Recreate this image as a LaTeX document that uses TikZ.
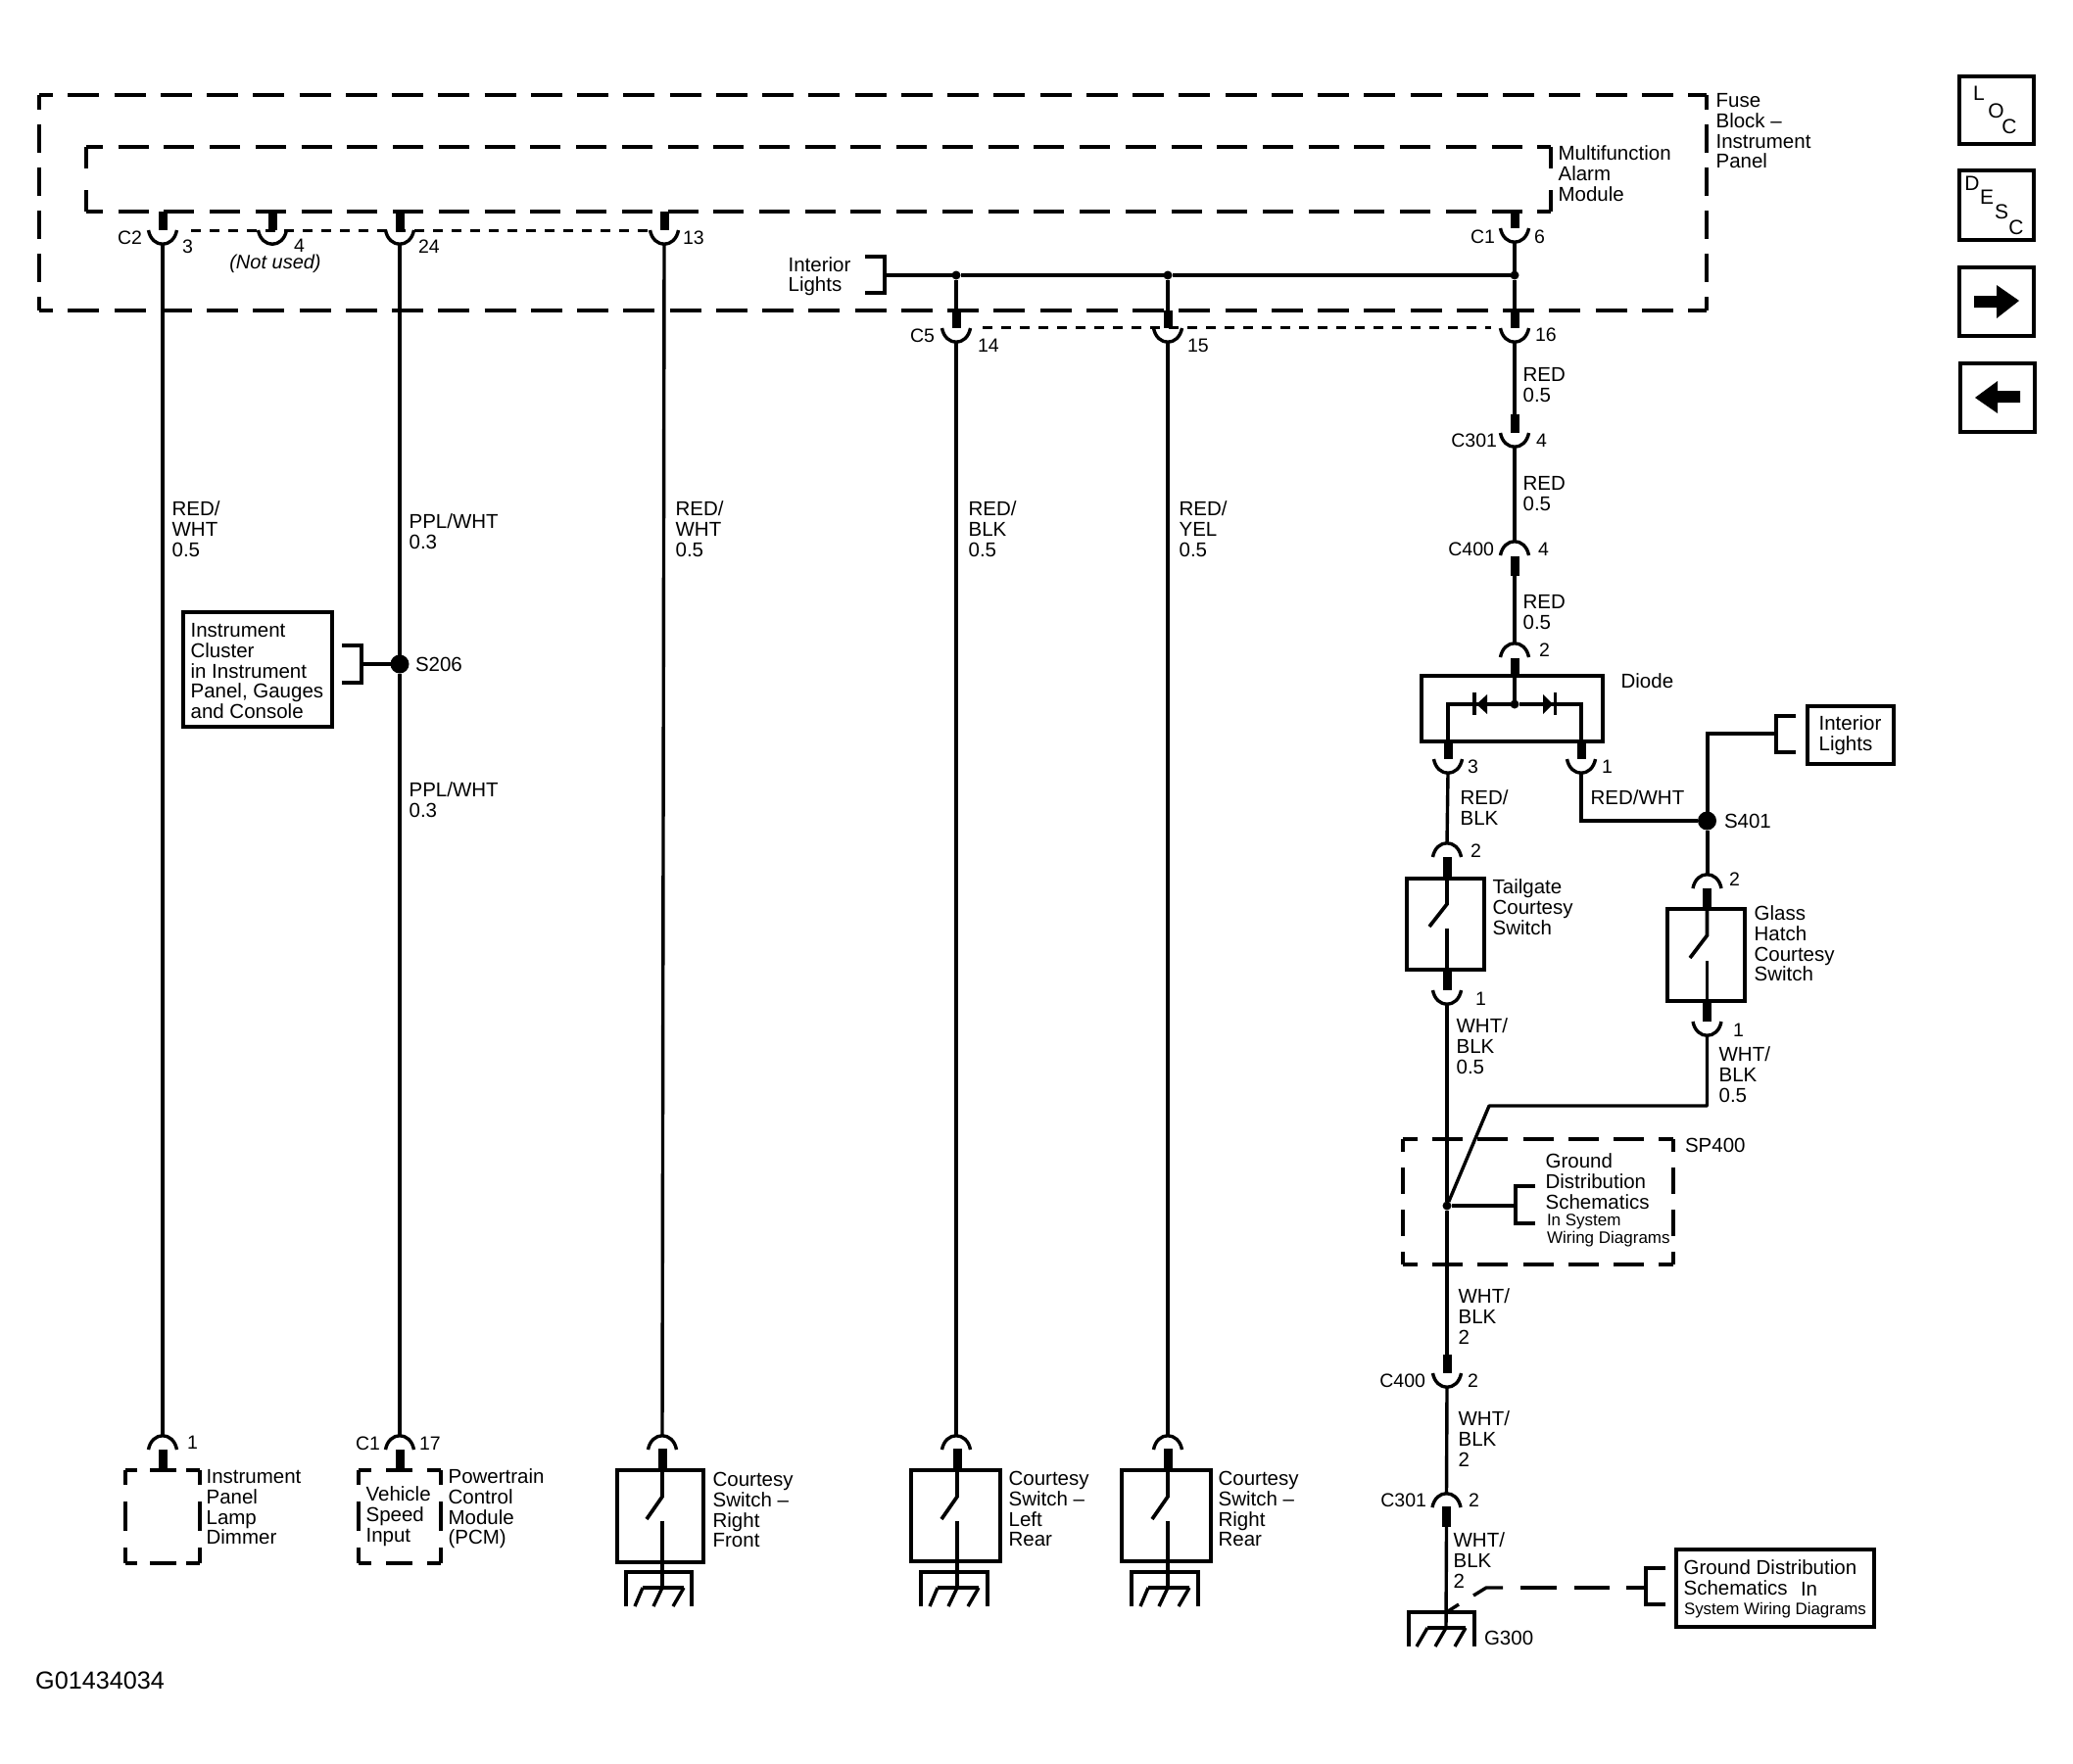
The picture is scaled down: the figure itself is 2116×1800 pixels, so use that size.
\documentclass[tikz,border=0pt]{standalone}
\usepackage{fontspec}
\setmainfont{Liberation Sans}
\tikzset{
  wire/.style={line width=3.4pt,line cap=butt,line join=miter},
  stubw/.style={line width=9pt,line cap=butt},
  cup/.style={line width=3.4pt,line cap=butt},
  box/.style={draw,line width=4pt,inner sep=0pt,outer sep=0pt},
  bigdash/.style={line width=3.6pt,dash pattern=on 32pt off 15.25pt,dash phase=18pt},
  vdash/.style={line width=3.6pt,dash pattern=on 29pt off 15pt,dash phase=14pt},
  indash/.style={line width=3.6pt,dash pattern=on 31pt off 15.73pt,dash phase=14pt},
  invdash/.style={line width=3.6pt,dash pattern=on 22pt off 22pt},
  spdash/.style={line width=3.6pt,dash pattern=on 31pt off 15.2pt,dash phase=16pt},
  spvdash/.style={line width=3.6pt,dash pattern=on 27pt off 16pt,dash phase=14pt},
  dotw/.style={line width=3pt,dash pattern=on 9.5pt off 9.5pt},
  lbl/.style={inner sep=0pt,outer sep=0pt,align=left,anchor=north west,font=\fontsize{20.5}{20.7}\selectfont},
  pinl/.style={inner sep=0pt,outer sep=0pt,font=\fontsize{19.5}{20}\selectfont},
  letr/.style={inner sep=0pt,outer sep=0pt,font=\fontsize{21}{21}\selectfont},
  smalll/.style={inner sep=0pt,outer sep=0pt,anchor=west,font=\fontsize{17}{18}\selectfont},
  bigj/.style={circle,fill=black,inner sep=0pt,outer sep=0pt,minimum size=19pt},
  smj/.style={circle,fill=black,inner sep=0pt,outer sep=0pt,minimum size=9pt}
}
% name x y(first line centre) text
\newcommand\lb[4]{\node[lbl] (#1) at (#2-1.4,#3-9.4) {\rule{0pt}{16pt}#4};}
\newcommand\pR[4]{\node[pinl,anchor=west] (#1) at (#2,#3) {#4};}
\newcommand\pL[4]{\node[pinl,anchor=east] (#1) at (#2,#3) {#4};}
% cup opening upward (wire leaves from bottom): name x top
\newcommand\cupD[3]{\coordinate (#1) at (#2,#3+14);
  \draw[cup] (#2-14.5,#3) .. controls (#2-11,#3+19) and (#2+11,#3+19) .. (#2+14.5,#3);}
% cup opening downward (wire enters at top): name x top
\newcommand\cupU[3]{\coordinate (#1) at (#2,#3);
  \draw[cup] (#2-14.5,#3+14) .. controls (#2-11,#3-5) and (#2+11,#3-5) .. (#2+14.5,#3+14);}
% thick stub: name x y1 y2
\newcommand\stub[4]{\coordinate (#1a) at (#2,#3); \coordinate (#1b) at (#2,#4);
  \draw[stubw] (#1a) -- (#1b);}
% open switch contact: name x top joint slantx slanty lowertop bottom
\newcommand\swc[8]{\coordinate (#1t) at (#2,#3); \coordinate (#1j) at (#2,#4);
  \coordinate (#1s) at (#5,#6); \coordinate (#1l) at (#2,#7); \coordinate (#1e) at (#2,#8);
  \draw[line width=3.7pt] (#1t) -- (#1j) -- (#1s);
  \draw[line width=3.7pt] (#1l) -- (#1e);}
% box by edges: name left top right bottom
\newcommand\bx[5]{\node[box,minimum width={#4-#2},minimum height={#5-#3}] (#1) at ({(#2+#4)/2},{(#3+#5)/2}) {};}
% ground: name x leftBr rightBr top barY bottom
\newcommand\gnd[7]{\draw[wire] (#3,#7) -- (#3,#5) -- (#4,#5) -- (#4,#7);
  \draw[wire] (#2-20,#6) -- (#2+22,#6);
  \draw[wire] (#2-20,#6) -- (#2-28,#7);
  \draw[wire] (#2,#6) -- (#2-9,#7);
  \draw[wire] (#2+22,#6) -- (#2+11,#7);
  \coordinate (#1) at (#2,#6);}
% bracket: x1 (spine) x2 (tips) y1 y2
\newcommand\brk[4]{\draw[wire] (#2,#3) -- (#1,#3) -- (#1,#4) -- (#2,#4);}
\begin{document}
\begin{tikzpicture}[x=1pt,y=-1pt]
\useasboundingbox (0,0) rectangle (2116,1800);
\fill[white] (0,0) rectangle (2116,1800);

% Fuse block outline
\coordinate (oTL) at (40,97); \coordinate (oTR) at (1742,97);
\coordinate (oBL) at (40,317); \coordinate (oBR) at (1742,317);
\draw[bigdash] (oTL) -- (oTR);
\draw[bigdash] (oBL) -- (oBR);
\draw[vdash] (oTL) -- (oBL);
\draw[vdash] (oTR) -- (oBR);
% Module outline
\coordinate (iTL) at (88,150); \coordinate (iTR) at (1583,150);
\coordinate (iBL) at (88,216); \coordinate (iBR) at (1583,216);
\draw[indash] (iTL) -- (iTR);
\draw[indash] (iBL) -- (iBR);
\draw[invdash] (iTL) -- (iBL);
\draw[invdash] (iTR) -- (iBR);

\lb{fuse}{1753}{103}{Fuse\\Block --\\Instrument\\Panel}
\lb{mfa}{1592}{157}{Multifunction\\Alarm\\Module}

% Top connectors row C2
\stub{sA}{166}{216}{235} \cupD{cA}{166}{235}
\stub{sB}{278}{216}{235} \cupD{cB}{278}{235}
\stub{sC}{408}{216}{235} \cupD{cC}{408}{235}
\stub{sD}{678}{216}{235} \cupD{cD}{678}{235}
\coordinate (dA1) at (195,235); \coordinate (dA2) at (662,235);
\draw[dotw] (dA1) -- (dA2);
\pL{c2}{145}{243}{C2} \pR{p3}{186}{252}{3} \pR{p4}{300}{251}{4}
\node[pinl,font=\fontsize{20}{20}\selectfont\itshape] (nu) at (281,269) {(Not used)};
\pR{p24}{427}{252}{24} \pR{p13}{697}{243}{13}

% C1 pin 6
\stub{sE}{1546}{216}{233} \cupD{cE}{1546}{233}
\pL{c1}{1526}{242}{C1} \pR{p6}{1566}{242}{6}

% Interior lights bus
\node[lbl,font=\fontsize{20.5}{19.6}\selectfont] (intl) at (804.6,261.6) {\rule{0pt}{16pt}Interior\\Lights};
\brk{903}{883}{262}{299}
\coordinate (busL) at (903,281);
\node[smj] (j1) at (976,281) {};
\node[smj] (j2) at (1192,281) {};
\node[smj] (j3) at (1546,281) {};
\draw[wire] (busL) -- (j1) -- (j2) -- (j3);
\draw[wire] (cE) -- (j3);

% C5 row
\stub{sF}{976}{317}{335} \cupD{cF}{976}{335}
\stub{sG}{1192}{317}{335} \cupD{cG}{1192}{335}
\stub{sH}{1546}{317}{335} \cupD{cH}{1546}{335}
\draw[wire] (j1) -- (sFa);
\draw[wire] (j2) -- (sGa);
\draw[wire] (j3) -- (sHa);
\coordinate (dB1) at (1003,334); \coordinate (dB2) at (1522,334);
\draw[dotw] (dB1) -- (dB2);
\pL{c5}{954}{343}{C5} \pR{p14}{998}{353}{14} \pR{p15}{1212}{353}{15} \pR{p16}{1567}{342}{16}

% Wire labels long runs
\lb{w1}{177}{520}{RED/\\WHT\\0.5}
\lb{w2}{419}{533}{PPL/WHT\\0.3}
\lb{w2b}{419}{807}{PPL/WHT\\0.3}
\lb{w3}{691}{520}{RED/\\WHT\\0.5}
\lb{w4}{990}{520}{RED/\\BLK\\0.5}
\lb{w5}{1205}{520}{RED/\\YEL\\0.5}

% Instrument cluster
\bx{ic}{187}{625}{339}{742}
\lb{ict}{196}{644}{Instrument\\Cluster\\in Instrument\\Panel, Gauges\\and Console}
\brk{369}{349}{659}{697}
\node[bigj] (s206) at (408,678) {};
\coordinate (icb) at (369,678);
\draw[wire] (icb) -- (s206);
\pR{s206t}{424}{678}{\fontsize{20.5}{21}\selectfont S206}

% Bottom left components
\cupU{uA}{166}{1466} \cupU{uC}{408}{1466} \cupU{uD}{676}{1466} \cupU{uF}{976}{1466} \cupU{uG}{1192}{1466}
\draw[wire] (cA) -- (uA);
\draw[wire] (cC) -- (s206) -- (uC);
\draw[wire] (cD) -- (uD);
\draw[wire] (cF) -- (uF);
\draw[wire] (cG) -- (uG);

\stub{sI}{166}{1480}{1500}
\stub{sJ}{408}{1480}{1500}
\draw[line width=4pt,dash pattern=on 12pt off 13pt on 27pt off 10pt on 14pt off 100pt] (128,1501) -- (204,1501);
\draw[line width=4pt,dash pattern=on 12pt off 13pt on 27pt off 10pt on 14pt off 100pt] (128,1596) -- (204,1596);
\draw[line width=4pt,dash pattern=on 15pt off 17pt on 30pt off 17pt on 16pt off 100pt] (128,1501) -- (128,1596);
\draw[line width=4pt,dash pattern=on 15pt off 17pt on 30pt off 17pt on 16pt off 100pt] (204,1501) -- (204,1596);
\draw[line width=4pt,dash pattern=on 13pt off 15pt on 27pt off 15pt on 14pt off 100pt] (366,1501) -- (450,1501);
\draw[line width=4pt,dash pattern=on 13pt off 15pt on 27pt off 15pt on 14pt off 100pt] (366,1596) -- (450,1596);
\draw[line width=4pt,dash pattern=on 15pt off 17pt on 30pt off 17pt on 16pt off 100pt] (366,1501) -- (366,1596);
\draw[line width=4pt,dash pattern=on 15pt off 17pt on 30pt off 17pt on 16pt off 100pt] (450,1501) -- (450,1596);
\pR{p1b}{191}{1473}{1} \pL{c1b}{388}{1474}{C1} \pR{p17}{428}{1474}{17}
\lb{ipl}{212}{1508}{Instrument\\Panel\\Lamp\\Dimmer}
\lb{pcm}{459}{1508}{Powertrain\\Control\\Module\\(PCM)}
\lb{vsi}{375}{1526}{Vehicle\\Speed\\Input}

% Courtesy switches
\stub{sK}{676}{1479}{1500}
\bx{swa}{630}{1501}{718}{1595}
\swc{ka}{676}{1501}{1528}{660}{1551}{1553}{1595}
\coordinate (kaG) at (676,1621); \draw[wire] (kae) -- (kaG);
\gnd{ga}{676}{639}{706}{1605}{1621}{1640}
\lb{ct1}{729}{1511}{Courtesy\\Switch --\\Right\\Front}

\stub{sL}{977}{1479}{1500}
\bx{swb}{930}{1501}{1021}{1594}
\swc{kb}{977}{1501}{1528}{961}{1551}{1553}{1594}
\coordinate (kbG) at (977,1621); \draw[wire] (kbe) -- (kbG);
\gnd{gb}{977}{940}{1008}{1605}{1621}{1640}
\lb{ct2}{1031}{1510}{Courtesy\\Switch --\\Left\\Rear}

\stub{sM}{1192}{1479}{1500}
\bx{swc}{1145}{1501}{1236}{1594}
\swc{kc}{1192}{1501}{1528}{1176}{1551}{1553}{1594}
\coordinate (kcG) at (1192,1621); \draw[wire] (kce) -- (kcG);
\gnd{gc}{1192}{1155}{1223}{1605}{1621}{1640}
\lb{ct3}{1245}{1510}{Courtesy\\Switch --\\Right\\Rear}

% Right column, to diode
\stub{sN}{1546}{423}{442} \cupD{cN}{1546}{442}
\draw[wire] (cH) -- (sNa);
\lb{r1}{1556}{383}{RED\\0.5}
\pL{c301a}{1528}{450}{C301} \pR{p4a}{1568}{450}{4}
\cupU{uP}{1546}{553} \stub{sP}{1546}{568}{588}
\draw[wire] (cN) -- (uP);
\lb{r2}{1556}{494}{RED\\0.5}
\pL{c400a}{1525}{561}{C400} \pR{p4b}{1570}{561}{4}
\cupU{uQ}{1546}{657} \stub{sQ}{1546}{672}{690}
\draw[wire] (sPb) -- (uQ);
\lb{r3}{1556}{615}{RED\\0.5}
\pR{p2a}{1571}{664}{2}

% Diode
\bx{dio}{1451}{690}{1636}{757}
\node[smj] (dj) at (1546,719) {};
\draw[wire] (sQb) -- (dj);
\coordinate (dl) at (1478,719); \coordinate (dr) at (1614,719);
\coordinate (dlb) at (1478,757); \coordinate (drb) at (1614,757);
\draw[line width=3.8pt] (dlb) -- (dl) -- (dj) -- (dr) -- (drb);
\fill (1507,719) -- (1518,709) -- (1518,729) -- cycle;
\draw[line width=3.6pt] (1505,707) -- (1505,730);
\fill (1585,719) -- (1575,709) -- (1575,729) -- cycle;
\draw[line width=3.6pt] (1587.5,707) -- (1587.5,730);
\lb{diot}{1656}{696}{Diode}

\stub{sR}{1478}{757}{775} \cupD{cR}{1478}{775}
\stub{sS}{1614}{757}{775} \cupD{cS}{1614}{775}
\pR{p3b}{1498}{783}{3} \pR{p1c}{1635}{783}{1}
\lb{r4}{1492}{815}{RED/\\BLK}
\lb{r5}{1625}{815}{RED/WHT}

% S401 and interior lights
\node[bigj] (s401) at (1742.5,838) {};
\coordinate (sc) at (1614,838);
\draw[wire] (cS) -- (sc) -- (s401);
\pR{s401t}{1760}{838}{\fontsize{20.5}{21}\selectfont S401}
\coordinate (lc) at (1742.5,749); \coordinate (lbk) at (1813,749);
\draw[line width=4pt] (s401) -- (lc) -- (lbk);
\brk{1813}{1833}{731}{768}
\bx{ilb}{1845}{721}{1933}{780}
\lb{ilt}{1858}{739}{Interior\\Lights}

% Tailgate
\cupU{uT}{1477}{861} \stub{sT}{1477}{875}{897}
\draw[wire] (cR) -- (uT);
\pR{p2b}{1501}{869}{2}
\bx{tg}{1436}{897}{1515}{990}
\swc{kt}{1477}{897}{923}{1459}{946}{948}{990}
\stub{sU}{1477}{990}{1011} \cupD{cU}{1477}{1011}
\pR{p1d}{1506}{1020}{1}
\lb{tgt}{1525}{906}{Tailgate\\Courtesy\\Switch}
\lb{wb1}{1488}{1048}{WHT/\\BLK\\0.5}

% Glass hatch
\cupU{uV}{1742.5}{893} \stub{sV}{1742.5}{907}{928}
\draw[line width=4pt] (s401) -- (uV);
\pR{p2c}{1765}{898}{2}
\bx{gh}{1702}{928}{1781}{1022}
\swc{kg}{1742.5}{928}{955}{1725}{978}{981}{1022}
\stub{sW}{1742.5}{1022}{1043} \cupD{cW}{1742.5}{1043}
\pR{p1e}{1769}{1052}{1}
\lb{ght}{1792}{933}{Glass\\Hatch\\Courtesy\\Switch}
\lb{wb2}{1756}{1077}{WHT/\\BLK\\0.5}

% SP400
\coordinate (spTL) at (1432,1163); \coordinate (spTR) at (1708,1163);
\coordinate (spBL) at (1432,1291); \coordinate (spBR) at (1708,1291);
\draw[spdash] (spTL) -- (spTR);
\draw[spdash] (spBL) -- (spBR);
\draw[spvdash] (spTL) -- (spBL);
\draw[spvdash] (spTR) -- (spBR);
\node[smj] (spj) at (1477,1231) {};
\coordinate (glc) at (1742.5,1129); \coordinate (glk) at (1520,1129);
\draw[wire,line join=round] (cW) -- (glc) -- (glk) -- (spj);
\stub{sX}{1477}{1383}{1402} \cupD{cX}{1477}{1402}
\draw[wire] (cU) -- (spj) -- (sXa);
\coordinate (spb) at (1547,1231);
\draw[wire] (spj) -- (spb);
\brk{1547}{1567}{1211}{1249}
\node[pinl,anchor=west,font=\fontsize{20.5}{21}\selectfont] (spt) at (1720,1169) {SP400};
\lb{gds}{1579}{1186}{Ground\\Distribution\\Schematics}
\node[smalll] (gds2) at (1579,1247) {In System};
\node[smalll] (gds3) at (1579,1265) {Wiring Diagrams};
\lb{wb3}{1490}{1324}{WHT/\\BLK\\2}
\pL{c400b}{1455}{1410}{C400} \pR{p2d}{1498}{1410}{2}

\cupU{uY}{1476.5}{1525} \stub{sY}{1476.5}{1538}{1559}
\draw[wire] (cX) -- (uY);
\lb{wb4}{1490}{1449}{WHT/\\BLK\\2}
\pL{c301b}{1456}{1532}{C301} \pR{p2e}{1499}{1532}{2}
\lb{wb5}{1485}{1573}{WHT/\\BLK\\2}

% G300
\coordinate (g3) at (1476,1662);
\draw[wire] (sYb) -- (g3);
\draw[wire] (1438,1681) -- (1438,1646) -- (1505,1646) -- (1505,1681);
\draw[wire] (1457,1662) -- (1496,1662);
\draw[wire] (1457,1662) -- (1446,1681);
\draw[wire] (1476,1662) -- (1465,1681);
\draw[wire] (1496,1662) -- (1485,1681);
\node[pinl,anchor=west,font=\fontsize{20.5}{21}\selectfont] (g300) at (1515,1672) {G300};
\coordinate (g4a) at (1476.5,1646); \coordinate (g4b) at (1489,1638);
\draw[wire] (g4a) -- (g4b);
\coordinate (g5a) at (1504,1629); \coordinate (g5b) at (1517,1621); \coordinate (g5c) at (1534,1621);
\draw[wire] (g5a) -- (g5b) -- (g5c);
\coordinate (g6a) at (1552,1621); \coordinate (g6b) at (1680,1621);
\draw[wire,dash pattern=on 37pt off 18pt on 36pt off 17pt on 20pt] (g6a) -- (g6b);
\brk{1680}{1700}{1601}{1638}
\bx{gdb}{1711}{1582}{1913}{1661}
\lb{gdt}{1720}{1601}{Ground Distribution\\Schematics}
\node[lbl,anchor=west] (gdin) at (1838,1622) {In};
\node[smalll,font=\fontsize{16.9}{18}\selectfont] (gdt2) at (1719,1644) {System Wiring Diagrams};

% Drawing number
\node[inner sep=0pt,anchor=west,font=\fontsize{25.2}{26}\selectfont] (gno) at (36,1716) {G01434034};

% Side buttons
\bx{b1}{2000}{78}{2076}{147}
\node[letr] (l1) at (2020,95) {L};
\node[letr] (l2) at (2037.5,113) {O};
\node[letr] (l3) at (2051,129) {C};
\bx{b2}{2000}{174}{2076}{245}
\node[letr] (d1) at (2013,187) {D};
\node[letr] (d2) at (2028,201) {E};
\node[letr] (d3) at (2043,216) {S};
\node[letr] (d4) at (2058,232) {C};
\bx{b3}{2000}{273}{2076}{343}
\fill (2015,302) -- (2038,302) -- (2038,291) -- (2061,307) -- (2038,325) -- (2038,314) -- (2015,314) -- cycle;
\bx{b4}{2001}{371}{2077}{441}
\fill (2016,406) -- (2039,389) -- (2039,399) -- (2062,399) -- (2062,411) -- (2039,411) -- (2039,422) -- cycle;
\end{tikzpicture}
\end{document}
